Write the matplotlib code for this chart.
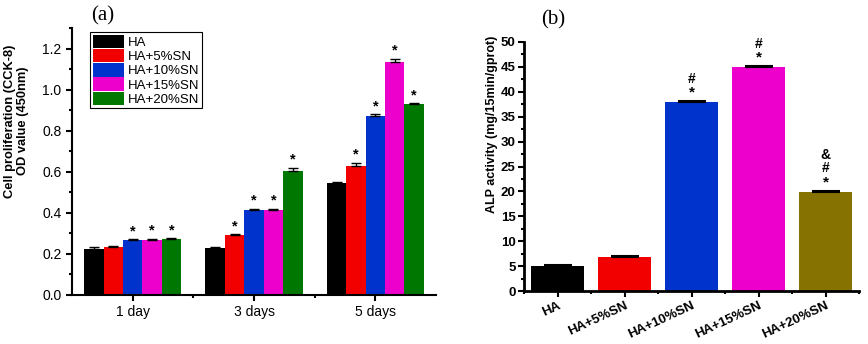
import matplotlib
matplotlib.use("Agg")
import matplotlib.pyplot as plt
import numpy as np
from matplotlib.ticker import MultipleLocator, FixedLocator

# ---------------- data ----------------
days = ["1 day", "3 days", "5 days"]
groups = ["HA", "HA+5%SN", "HA+10%SN", "HA+15%SN", "HA+20%SN"]
od_ha = [0.225, 0.230, 0.545]
od_5 = [0.235, 0.292, 0.630]
od_10 = [0.268, 0.415, 0.870]
od_15 = [0.270, 0.415, 1.135]
od_20 = [0.272, 0.605, 0.930]
od_err_ha = [0.008, 0.004, 0.005]
od_err_5 = [0.005, 0.005, 0.015]
od_err_10 = [0.004, 0.004, 0.010]
od_err_15 = [0.004, 0.005, 0.015]
od_err_20 = [0.004, 0.015, 0.004]
od_sig = [[False, False, False], [False, True, True], [True, True, True],
          [True, True, True], [True, True, True]]

alp_vals = [5.0, 6.9, 37.9, 44.9, 19.9]
alp_err = [0.3, 0.15, 0.2, 0.2, 0.2]
alp_marks = ["", "", "*\n#", "*\n#", "*\n#\n&"]

colors_a = ["#000000", "#f20000", "#0033cc", "#ee00cc", "#007700"]
colors_b = ["#000000", "#f20000", "#0033cc", "#ee00cc", "#857200"]

plt.rcParams['font.family'] = ['Liberation Sans', 'DejaVu Sans']

fig = plt.figure(figsize=(8.68, 3.44), dpi=100)

# ---------------- panel (a) ----------------
axa = fig.add_axes([72/868, 1-295/344, (436-72)/868, (295-28)/344])
od_series = [od_ha, od_5, od_10, od_15, od_20]
od_errs = [od_err_ha, od_err_5, od_err_10, od_err_15, od_err_20]
x = np.arange(len(days))
w = 0.16
for i, (vals, errs) in enumerate(zip(od_series, od_errs)):
    pos = x + (i - 2) * w
    axa.bar(pos, vals, w, color=colors_a[i], label=groups[i], zorder=2)
    axa.errorbar(pos, vals, yerr=[[0]*len(vals), errs], fmt='none', ecolor='black',
                 elinewidth=1, capsize=3.5, capthick=1, zorder=3)
    for j in range(len(vals)):
        if od_sig[i][j]:
            axa.text(pos[j], vals[j] + errs[j] + 0.005, "*", ha='center', va='bottom',
                     fontsize=10.5, fontweight='bold')
axa.set_xlim(-0.5, 2.5)
axa.set_ylim(0, 1.3)
axa.set_xticks(x)
axa.set_xticklabels(days, fontsize=10)
axa.xaxis.set_minor_locator(FixedLocator([0.5, 1.5]))
axa.set_yticks(np.arange(0, 1.21, 0.2))
axa.set_yticklabels(["%.1f" % v for v in np.arange(0, 1.21, 0.2)], fontsize=10)
axa.yaxis.set_minor_locator(MultipleLocator(0.1))
for s in ['top', 'right']:
    axa.spines[s].set_visible(False)
for s in ['left', 'bottom']:
    axa.spines[s].set_linewidth(1.5)
axa.tick_params(which='major', direction='out', length=4, width=1.5)
axa.tick_params(which='minor', direction='out', length=2.5, width=1.5)
axa.set_ylabel("Cell proliferation (CCK-8)\nOD value (450nm)", fontsize=9.3,
               fontweight='bold', linespacing=1.12)
axa.yaxis.set_label_coords(-0.118, (295-121)/267)
leg = axa.legend(loc='upper left', bbox_to_anchor=(90/868, 1-32/344),
                 bbox_transform=fig.transFigure, borderaxespad=0, fontsize=9.5,
                 fancybox=False, edgecolor='black', framealpha=1,
                 handlelength=2.4, handleheight=1.2, labelspacing=0.0,
                 handletextpad=0.3, borderpad=0.2)
leg.get_frame().set_linewidth(0.8)
fig.text(103/868, 1-16/344, "(a)", fontsize=15, family=['Liberation Serif'],
         ha='center', va='center')

# ---------------- panel (b) ----------------
axb = fig.add_axes([524/868, 1-291/344, (859-524)/868, (291-42)/344])
xb = np.arange(len(groups))
axb.bar(xb, alp_vals, 0.8, color=colors_b, zorder=2)
axb.errorbar(xb, alp_vals, yerr=[[0]*len(alp_vals), alp_err], fmt='none',
             ecolor='black', elinewidth=1.5, capsize=10, capthick=1.5, zorder=3)
for i, m in enumerate(alp_marks):
    if m:
        lines = m.split("\n")
        y0 = alp_vals[i] + alp_err[i] + 0.3
        for k, ch in enumerate(lines):
            axb.text(xb[i], y0 + k * 2.8, ch, ha='center', va='bottom',
                     fontsize=10 if ch != "*" else 11, fontweight='bold')
axb.set_xlim(-0.5, 4.5)
axb.set_ylim(0, 50)
axb.set_xticks(xb)
axb.set_xticklabels(groups, fontsize=9.5, fontweight='bold', rotation=25,
                    ha='right', rotation_mode='anchor')
axb.xaxis.set_minor_locator(FixedLocator([-0.5, 0.5, 1.5, 2.5, 3.5, 4.5]))
axb.set_yticks(np.arange(0, 51, 5))
axb.set_yticklabels([str(v) for v in range(0, 51, 5)], fontsize=9.5, fontweight='bold')
axb.yaxis.set_minor_locator(MultipleLocator(2.5))
for s in ['top', 'right']:
    axb.spines[s].set_visible(False)
for s in ['left', 'bottom']:
    axb.spines[s].set_linewidth(2)
axb.tick_params(which='major', direction='out', length=4, width=1.5, pad=2)
axb.tick_params(which='minor', direction='out', length=2.5, width=1.5)
axb.set_ylabel("ALP activity (mg/15min/gprot)", fontsize=9, fontweight='bold')
axb.yaxis.set_label_coords(-0.078, (291-124)/249)
fig.text(553/868, 1-20/344, "(b)", fontsize=15, family=['Liberation Serif'],
         ha='center', va='center')

fig.savefig("out.png", dpi=100)
